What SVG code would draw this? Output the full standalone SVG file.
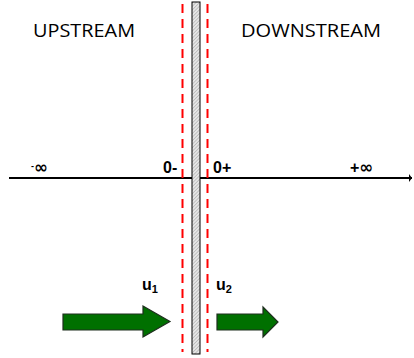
<svg xmlns="http://www.w3.org/2000/svg" width="414" height="358" viewBox="0 0 414 358">
<defs>
<pattern id="hatch" width="2.5" height="2.5" patternUnits="userSpaceOnUse" patternTransform="rotate(45)">
<rect width="2.5" height="2.5" fill="#e6e6e6"/>
<line x1="0" y1="0" x2="0" y2="2.5" stroke="#8a8a8a" stroke-width="0.8"/>
</pattern>
<marker id="ah" markerWidth="4" markerHeight="10" refX="3" refY="5" orient="auto" markerUnits="userSpaceOnUse">
<path d="M0,1 L3,5 L0,9 Z" fill="#000"/>
</marker>
<style>
.lbl{font-family:"Open Sans","Liberation Sans",sans-serif;font-size:18px;fill:#000}
.b{font-family:"Liberation Sans",Arial,sans-serif;font-weight:bold;font-size:16px;fill:#000}
.dash{stroke:#ff0000;stroke-width:2;stroke-dasharray:9,6;fill:none}
.garrow{fill:#007000;stroke:#1e2e1e;stroke-width:1.2}
</style>
</defs>
<g id="connectors">
<line id="axis" x1="9" y1="178" x2="412" y2="178" stroke="#000" stroke-width="2" marker-end="url(#ah)"/>
</g>
<g id="dashes">
<line class="dash" x1="182.5" y1="4" x2="182.5" y2="352"/>
<line class="dash" x1="207.5" y1="4" x2="207.5" y2="352"/>
</g>
<g id="wall">
<rect x="192" y="2" width="8" height="352" fill="url(#hatch)" stroke="#000" stroke-width="1"/>
</g>
<g id="upstream"><text class="lbl" x="33" y="37" textLength="102" lengthAdjust="spacingAndGlyphs">UPSTREAM</text></g>
<g id="downstream"><text class="lbl" x="241" y="37" textLength="140" lengthAdjust="spacingAndGlyphs">DOWNSTREAM</text></g>
<g id="minf"><text class="b" x="31" y="173"><tspan font-size="9" dy="-4">-</tspan><tspan dy="4" font-family="DejaVu Sans" font-size="17">∞</tspan></text></g>
<g id="zminus"><text class="b" x="163" y="173">0-</text></g>
<g id="zplus"><text class="b" x="213" y="173">0+</text></g>
<g id="pinf"><text class="b" x="350" y="173">+<tspan font-family="DejaVu Sans" font-size="17">∞</tspan></text></g>
<g id="u1"><text class="b" x="142" y="290" font-size="18">u<tspan font-size="11" dy="3">1</tspan></text></g>
<g id="u2"><text class="b" x="216" y="290" font-size="18">u<tspan font-size="11" dy="3">2</tspan></text></g>
<g id="arrow1"><path class="garrow" d="M63,314 L143,314 L143,306 L170,321.5 L143,337 L143,330 L63,330 Z"/></g>
<g id="arrow2"><path class="garrow" d="M217,314 L263,314 L263,307 L278,322 L263,337 L263,330 L217,330 Z"/></g>
</svg>
